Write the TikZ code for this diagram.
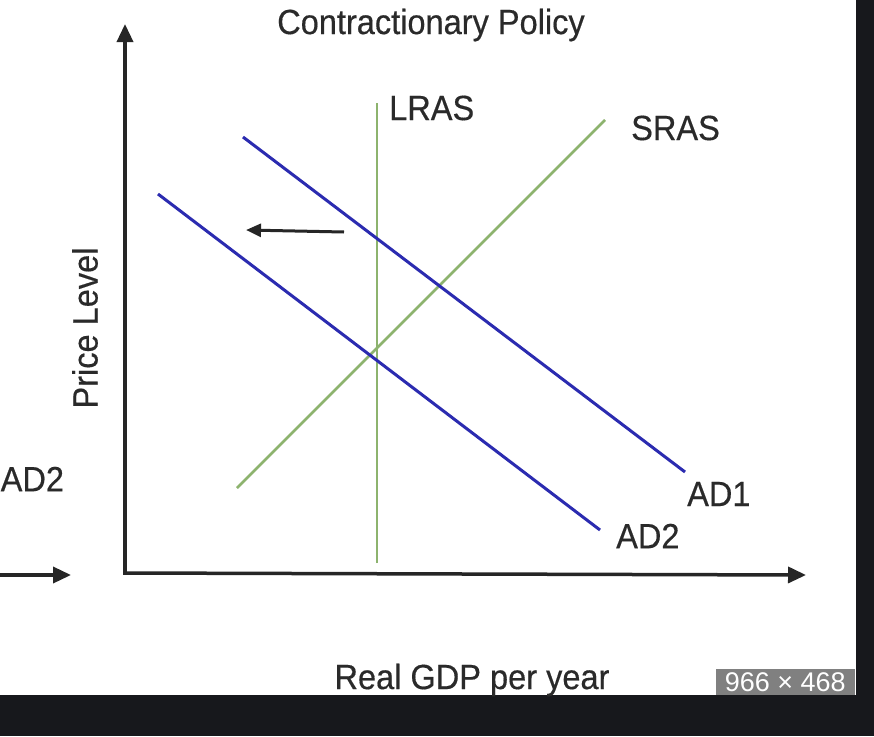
\documentclass[tikz,border=0pt]{standalone}
\usepackage{fontspec}
\setmainfont{Liberation Sans}
\newfontfamily\lblfont[FakeStretch=0.93,FakeBold=0.4]{Liberation Sans}
\usetikzlibrary{arrows.meta}
\definecolor{adblue}{HTML}{2B2BB0}
\definecolor{asgreen}{HTML}{8DB36E}
\definecolor{txt}{HTML}{2A2A2A}
\definecolor{frame}{HTML}{17181C}
\definecolor{badge}{HTML}{808080}
\begin{document}
\begin{tikzpicture}[x=1pt,y=-1pt,
  axis/.style={line width=3.5pt,black!85,-{Triangle[length=18pt,width=16pt]}},
  adline/.style={line width=3pt,adblue},
  asline/.style={line width=2.5pt,asgreen},
  lbl/.style={text=txt,font=\lblfont\fontsize{35}{38}\selectfont,inner sep=0pt},
  shiftarrow/.style={line width=3pt,black!85,-{Triangle[length=15pt,width=13pt]}}]
\useasboundingbox (0,0) rectangle (874,736);
\fill[white] (0,0) rectangle (874,736);
% frame
\fill[frame] (856,0) rectangle (874,736);
\fill[frame] (0,695) rectangle (874,736);
\node[fill=badge,minimum width=139pt,minimum height=26pt,inner sep=0pt,anchor=south east,text=white,font=\fontsize{27}{29}\selectfont] (badge) at (855,695) {966 × 468};
% axes
\coordinate (O) at (125,573);
\coordinate (ytip) at (125,24);
\coordinate (xtip) at (806,575);
\draw[axis] (O) -- (ytip);
\draw[line width=3.5pt,black!85] (123,573) -- (O);
\draw[axis] (O) -- (xtip);
% partial left arrow
\coordinate (la0) at (-5,575);
\coordinate (la1) at (71,575);
\draw[axis] (la0) -- (la1);
\node[lbl,anchor=west] (ad2left) at (0.5,479) {AD2};
% title
\node[lbl] (title) at (431,25) {Contractionary Policy};
% LRAS
\coordinate (lr0) at (377,563);
\coordinate (lr1) at (377,103);
\draw[asline] (lr0) -- (lr1);
\node[lbl,anchor=west] (lras) at (389,108) {LRAS};
% SRAS
\coordinate (sr0) at (237,488);
\coordinate (sr1) at (605,120);
\draw[asline] (sr0) -- (sr1);
\node[lbl,anchor=west] (sras) at (631,128) {SRAS};
% AD1
\coordinate (a10) at (243,137);
\coordinate (a11) at (685,472);
\draw[adline] (a10) -- (a11);
\node[lbl,anchor=west] (ad1) at (687,494) {AD1};
% AD2
\coordinate (a20) at (158,194);
\coordinate (a21) at (600,530);
\draw[adline] (a20) -- (a21);
\node[lbl,anchor=west] (ad2) at (616,536) {AD2};
% shift arrow
\coordinate (s0) at (344,232);
\coordinate (s1) at (246,230);
\draw[shiftarrow] (s0) -- (s1);
% axis labels
\node[lbl,rotate=90] (ylab) at (85,328) {Price Level};
\node[lbl] (xlab) at (472,680) {Real GDP per year};
\end{tikzpicture}
\end{document}
